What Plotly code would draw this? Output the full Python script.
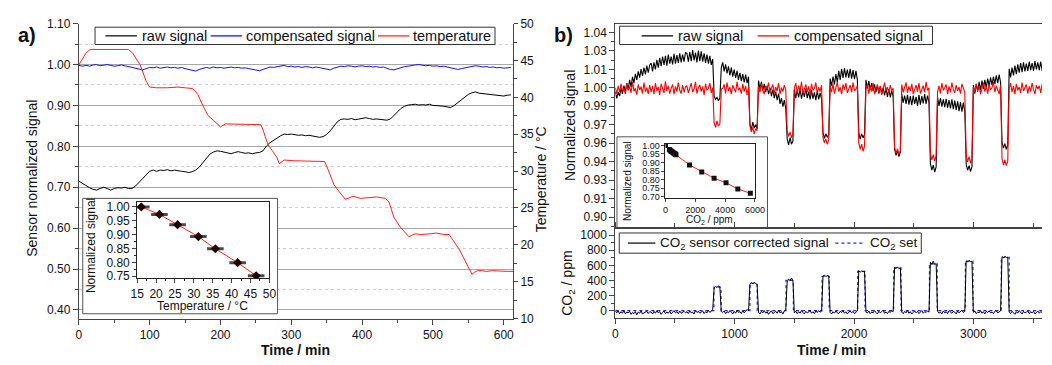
import plotly.graph_objects as go

W, H = 1052, 365
FONT = "Liberation Sans, Arial, sans-serif"

# ---------------- panel a data (time step 5 min) ----------------
raw_a = [0.715, 0.709, 0.703, 0.699, 0.695, 0.693, 0.697, 0.700, 0.697, 0.693,
         0.697, 0.699, 0.698, 0.700, 0.697, 0.697, 0.703, 0.712, 0.723, 0.732,
         0.739, 0.742, 0.739, 0.742, 0.741, 0.743, 0.740, 0.742, 0.740, 0.739,
         0.738, 0.736, 0.738, 0.742, 0.749, 0.760, 0.771, 0.781, 0.786, 0.789,
         0.788, 0.786, 0.784, 0.782, 0.785, 0.787, 0.785, 0.783, 0.784, 0.782,
         0.784, 0.785, 0.789, 0.801, 0.809, 0.815, 0.820, 0.826, 0.830, 0.829,
         0.830, 0.828, 0.827, 0.828, 0.826, 0.827, 0.825, 0.823, 0.822, 0.824,
         0.829, 0.838, 0.850, 0.860, 0.866, 0.867, 0.866, 0.868, 0.865, 0.867,
         0.869, 0.870, 0.868, 0.866, 0.867, 0.866, 0.864, 0.864, 0.867, 0.876,
         0.885, 0.893, 0.898, 0.901, 0.902, 0.903, 0.901, 0.902, 0.901, 0.903,
         0.900, 0.900, 0.899, 0.898, 0.896, 0.895, 0.900, 0.907, 0.915, 0.922,
         0.927, 0.931, 0.933, 0.930, 0.929, 0.928, 0.927, 0.926, 0.925, 0.924,
         0.923, 0.925, 0.926]

comp_a = [0.998, 0.996, 0.998, 0.996, 0.999, 1.000, 0.997, 0.998, 1.000, 0.998,
          0.996, 0.997, 0.999, 0.997, 0.995, 0.993, 0.991, 0.989, 0.987, 0.990,
          0.993, 0.992, 0.994, 0.991, 0.993, 0.994, 0.992, 0.993, 0.991, 0.993,
          0.990, 0.988, 0.985, 0.984, 0.988, 0.991, 0.993, 0.991, 0.994, 0.992,
          0.993, 0.991, 0.993, 0.994, 0.992, 0.993, 0.991, 0.992, 0.990, 0.988,
          0.986, 0.985, 0.988, 0.992, 0.994, 0.993, 0.995, 0.997, 0.998, 0.995,
          0.996, 0.994, 0.995, 0.993, 0.995, 0.994, 0.992, 0.994, 0.992, 0.990,
          0.988, 0.987, 0.991, 0.994, 0.996, 0.995, 0.997, 0.996, 0.994, 0.996,
          0.997, 0.995, 0.996, 0.994, 0.995, 0.993, 0.994, 0.991, 0.988, 0.987,
          0.990, 0.993, 0.995, 0.996, 0.998, 0.999, 1.000, 0.998, 0.997, 0.998,
          0.996, 0.997, 0.995, 0.996, 0.994, 0.992, 0.989, 0.988, 0.990, 0.992,
          0.994, 0.995, 0.997, 0.996, 0.994, 0.995, 0.993, 0.994, 0.992, 0.993,
          0.991, 0.992, 0.993]

t_temp = [0, 5, 10, 16, 30, 50, 70, 76, 82, 86, 89, 92, 95, 100, 110, 125, 140, 150, 160, 164,
          168, 174, 178, 182, 190, 197, 200, 207, 220, 240, 257, 260, 263, 267, 273, 280, 283, 290, 305, 320,
          335, 347, 352, 356, 360, 366, 371, 376, 380, 387, 398, 410, 420, 433, 438, 442, 445, 454, 460, 466,
          470, 475, 483, 491, 497, 505, 515, 523, 530, 537, 543, 549, 555, 559, 563, 570, 575, 584, 595, 605, 613]
temp_a = [44.4, 45.3, 46.0, 46.5, 46.5, 46.5, 46.5, 46.0, 45.2, 44.5, 43.8, 43.0, 42.2, 41.4, 41.3, 41.3, 41.4, 41.3, 41.2, 40.9,
          40.4, 39.1, 38.3, 37.6, 36.9, 36.2, 36.0, 36.4, 36.4, 36.4, 36.3, 35.6, 34.7, 33.6, 32.8, 31.8, 31.0, 31.5, 31.4, 31.4,
          31.4, 31.3, 30.2, 29.2, 28.2, 27.4, 26.8, 26.2, 26.3, 26.6, 26.3, 26.4, 26.5, 26.3, 25.8, 24.6, 23.7, 22.4, 21.7, 21.1,
          21.3, 21.5, 21.4, 21.4, 21.5, 21.6, 21.4, 21.4, 20.4, 19.4, 18.3, 17.2, 16.0, 16.3, 16.5, 16.5, 16.4, 16.5, 16.4, 16.4, 16.4]

# inset a
temp_cal = [16.1, 20.9, 25.7, 31.2, 35.7, 41.6, 46.5]
sig_cal = [1.000, 0.973, 0.936, 0.893, 0.849, 0.799, 0.752]
temp_err = [1.8, 1.8, 1.8, 1.8, 1.8, 1.8, 1.8]

# ---------------- panel b data (time step 12 min, values in 1e-4 units) ----------------
raw_b = [
    9965, 9912, 9960, 9931, 9990, 9948, 10012, 9962, 10030, 9981, 10055, 10002, 10078, 10030, 10102, 10055, 10120, 10072, 10138, 10085, 10150, 10098, 10165, 10110, 10170,
    10185, 10120, 10190, 10135, 10210, 10150, 10225, 10160, 10235, 10170, 10240, 10165, 10250, 10180, 10235, 10175, 10255, 10180, 10245, 10185, 10260, 10190, 10250, 10195, 10265,
    10260, 10195, 10270, 10200, 10285, 10205, 10265, 10190, 10280, 10200, 10275, 10195, 10260, 10185, 10250, 10180, 10240, 10170, 10215, 9930, 9905, 9920, 9895, 9915, 10150,
    10190, 10120, 10175, 10105, 10160, 10090, 10150, 10080, 10135, 10070, 10125, 10055, 10110, 10045, 10100, 10035, 10095, 10030, 10080, 9715, 9670, 9730, 9685, 9710, 9680,
    10050, 9985, 10040, 9975, 10025, 9960, 10010, 9945, 9995, 9930, 9980, 9915, 9965, 9900, 9950, 9870, 9915, 9850, 9900, 9835, 9600, 9555, 9610, 9560, 9585,
    9980, 9915, 9975, 9920, 9985, 9910, 9970, 9925, 9990, 9915, 9965, 9905, 9975, 9910, 9960, 9900, 9970, 9905, 9955, 9910, 9650, 9605, 9640, 9615, 9630,
    10065, 10010, 10080, 10020, 10100, 10040, 10125, 10055, 10140, 10070, 10145, 10075, 10135, 10070, 10140, 10065, 10130, 10060, 10125, 10055, 9650, 9600, 9640, 9610, 9635,
    10055, 9990, 10045, 9980, 10030, 9970, 10020, 9960, 10010, 9950, 10005, 9945, 9995, 9935, 9990, 9925, 9985, 9920, 9975, 9925, 9520, 9475, 9510, 9465, 9500,
    9945, 9880, 9935, 9870, 9940, 9865, 9930, 9860, 9935, 9870, 9925, 9855, 9940, 9865, 9930, 9875, 9945, 9870, 9935, 9880, 9410, 9360, 9400, 9345, 9385,
    9920, 9855, 9915, 9850, 9905, 9845, 9910, 9840, 9900, 9835, 9905, 9830, 9895, 9825, 9890, 9815, 9885, 9810, 9880, 9815, 9405, 9360, 9395, 9350, 9385,
    10015, 9950, 10025, 9965, 10040, 9975, 10050, 9985, 10055, 9995, 10065, 10005, 10075, 10015, 10080, 10025, 10090, 10030, 10095, 10035, 9575, 9530, 9565, 9520, 9555,
    10140, 10075, 10150, 10090, 10165, 10100, 10175, 10110, 10185, 10115, 10190, 10120, 10180, 10125, 10195, 10130, 10185, 10125, 10200, 10135, 10190, 10130, 10195, 10125, 10185,
]

comp_b = [
    9995, 9950, 10010, 9962, 10025, 9970, 9990, 9945, 10030, 9975, 10005, 9955, 10040, 9968, 9990, 9942, 10020, 9978, 10002, 9950, 10035, 9965, 9995, 9948, 10015,
    9960, 10010, 9945, 10030, 9970, 10000, 9940, 10025, 9985, 9955, 10045, 9970, 10010, 9950, 9990, 10020, 9945, 10005, 9965, 10035, 9975, 9950, 10015, 9960, 10000,
    10010, 9955, 9990, 10030, 9960, 9985, 10040, 9950, 9995, 10015, 9965, 10005, 9940, 10025, 9975, 9990, 10030, 9955, 9995, 9725, 9690, 9740, 9700, 9715, 9985,
    9990, 10020, 9950, 10035, 9970, 10000, 9945, 10015, 9980, 9960, 10040, 9975, 9995, 9950, 10025, 9965, 10010, 9940, 10000, 9700, 9655, 9690, 9640, 9680, 9665,
    10005, 9960, 10025, 9975, 9945, 10010, 9985, 10035, 9955, 9990, 10020, 9950, 10000, 9970, 10030, 9945, 9995, 9965, 10015, 9980, 9665, 9620, 9655, 9610, 9640,
    9990, 10030, 9955, 10010, 9970, 10040, 9950, 9995, 10020, 9960, 10005, 9945, 10025, 9975, 9990, 10035, 9955, 10000, 9965, 10015, 9610, 9570, 9600, 9560, 9595,
    10010, 9960, 10025, 9950, 9995, 10040, 9965, 10000, 9945, 10020, 9980, 10030, 9955, 9990, 10015, 9960, 10035, 9970, 9985, 10010, 9570, 9520, 9560, 9505, 9545,
    9985, 10025, 9950, 10005, 9965, 10030, 9945, 9990, 10020, 9960, 10010, 9940, 9995, 10035, 9970, 10000, 9955, 10015, 9975, 9990, 9535, 9490, 9525, 9480, 9510,
    10020, 9960, 9995, 10035, 9955, 10005, 9970, 10025, 9945, 9990, 10015, 9965, 10030, 9950, 9985, 10010, 9960, 10040, 9975, 9995, 9490, 9440, 9480, 9430, 9470,
    9965, 10010, 9950, 10030, 9975, 9995, 10020, 9945, 10005, 9960, 10035, 9980, 9955, 10015, 9970, 10000, 9950, 10025, 9985, 9960, 9475, 9425, 9465, 9415, 9455,
    10000, 9955, 10025, 9970, 10010, 9945, 9990, 10035, 9965, 10005, 9950, 10020, 9980, 9995, 10040, 9960, 10010, 9975, 9945, 10015, 9450, 9400, 9440, 9395, 9430,
    9990, 10030, 9960, 10010, 9945, 10025, 9975, 10000, 9955, 10035, 9970, 9990, 10020, 9950, 10005, 9965, 10030, 9980, 9945, 10015, 9985, 10010, 9955, 10025, 9970,
]

co2_sig = [
    -5, -30, 0, -40, -15, -35, 5, -45, -20, -30, -10, -50, -25, -40, -15, -55, -20, -35, -5, -45, -30, -20, -10, -40, -15,
    -20, -45, -10, -35, 0, -30, -15, -50, -25, -5, -40, -20, -35, -10, -45, -25, 0, -30, -15, -40, -5, -35, -20, -10, -30,
    -15, -40, -5, -30, -20, -45, 0, -25, -10, -35, -20, -5, -40, -15, -30, 5, -25, -10, 10, 300, 320, 305, 330, 310, -10,
    -25, -5, -40, -15, -30, 0, -20, -45, -10, -35, 5, -25, -15, -40, 0, -30, -10, 15, -5, 350, 370, 355, 375, 360, 345,
    -20, -45, -10, -30, 0, -35, -15, -50, -20, -5, -40, -25, -10, -35, 5, -30, -15, -45, -5, 10, 380, 420, 395, 430, 400,
    -30, -10, -40, -15, -35, 0, -25, -45, -10, -30, -20, 5, -35, -15, -40, -5, -25, 0, -20, -10, 455, 470, 450, 465, 460,
    -25, -45, -15, -35, -5, -30, -40, -10, -25, 0, -35, -15, -45, -20, -5, -30, -10, -40, -20, -5, 530, 510, 525, 515, 520,
    -15, -35, -5, -40, -20, -30, 0, -25, -45, -10, -30, -15, 5, -35, -20, -40, -10, -25, 0, -15, 575, 560, 580, 555, 570,
    -20, -40, -10, -30, 5, -35, -15, -45, -25, -5, -30, -10, -40, -20, 0, -35, -15, -25, -5, -20, 640, 615, 655, 610, 625,
    -10, -35, -20, -45, -5, -30, -15, -40, 0, -25, -35, -10, -20, -45, -5, -30, -15, 5, -25, -10, 660, 645, 665, 650, 655,
    -25, -5, -40, -20, -30, 0, -35, -15, -45, -10, -25, -5, -30, -20, -40, -10, 0, -30, -15, -5, 715, 700, 720, 705, 710,
    -20, -40, -10, -30, -50, -15, -35, 0, -25, -45, -10, -30, -20, -5, -40, -15, -30, -10, -45, -20, -5, -35, -15, -25, -10,
]

set_t = [0, 826, 886, 1128, 1189, 1430, 1492, 1732, 1792, 2031, 2092, 2332, 2394, 2632, 2697, 2933, 2997, 3234, 3300, 3588]
set_v = [0, 310, 0, 360, 0, 400, 0, 455, 0, 520, 0, 565, 0, 620, 0, 655, 0, 705, 0, 0]

# inset b
co2_cal = [0, 260, 310, 360, 400, 460, 520, 570, 620, 660, 705, 1610, 2430, 3260, 4060, 4850, 5690]
sig_co2 = [1.000, 0.976, 0.972, 0.968, 0.965, 0.961, 0.957, 0.954, 0.951, 0.948, 0.945,
           0.886, 0.845, 0.808, 0.781, 0.745, 0.720]

# series names
NAMES_A = ['raw signal', 'compensated signal', 'temperature']
NAMES_B = ['raw signal', 'compensated signal']
NAMES_C = ['CO<sub>2</sub> sensor corrected signal', 'CO<sub>2</sub> set']


# ---------------- helpers ----------------
def fx(px):
    return px / W


def fy(py):
    return 1 - py / H


A_XR = [0, 613]
A_YR = [0.379, 1.10]
A_Y2R = [10, 50]
B_XR = [0, 3575]
BT_YR = [0.8914, 1.0488]
BB_YR = [-97, 1093]

A_L, A_R, A_T, A_B = 73, 514.3, 17.3, 324
B_L, B_R, BT_T, BT_B, BB_B = 618.3, 1052, 17.3, 230, 323.3


def ax_a(px):
    return A_XR[0] + (px - A_L) / (A_R - A_L) * (A_XR[1] - A_XR[0])


def ay_a(py):
    return A_YR[1] - (py - A_T) / (A_B - A_T) * (A_YR[1] - A_YR[0])


def ax_b(px):
    return B_XR[0] + (px - B_L) / (B_R - B_L) * (B_XR[1] - B_XR[0])


def ay_b(py):
    return BT_YR[1] - (py - BT_T) / (BT_B - BT_T) * (BT_YR[1] - BT_YR[0])


C_BLACK, C_BLUE, C_RED = '#000000', '#1010ff', '#ff2020'

fig = go.Figure()

# panel a traces
t_a = [5 * i for i in range(len(raw_a))]
t_ac = [5 * i for i in range(len(comp_a))]
fig.add_trace(go.Scatter(x=t_a, y=raw_a, mode='lines', line=dict(color=C_BLACK, width=1),
                         name=NAMES_A[0], xaxis='x', yaxis='y'))
fig.add_trace(go.Scatter(x=t_ac, y=comp_a, mode='lines', line=dict(color=C_BLUE, width=1),
                         name=NAMES_A[1], xaxis='x', yaxis='y'))
fig.add_trace(go.Scatter(x=t_temp, y=temp_a, mode='lines', line=dict(color=C_RED, width=1),
                         name=NAMES_A[2], xaxis='x', yaxis='y2'))

# inset a
fig.add_trace(go.Scatter(x=temp_cal, y=sig_cal, mode='lines+markers',
                         line=dict(color=C_RED, width=1),
                         marker=dict(symbol='diamond', size=7, color='#1a0000'),
                         error_x=dict(type='data', array=temp_err, color='#4a4a4a', thickness=3, width=1.5),
                         name='calibration', xaxis='x4', yaxis='y5'))

# panel b traces
t_braw = [12 * i for i in range(len(raw_b))]
t_bcomp = [12 * i for i in range(len(comp_b))]
t_bco2 = [12 * i for i in range(len(co2_sig))]
fig.add_trace(go.Scatter(x=t_braw, y=[v / 10000 for v in raw_b], mode='lines',
                         line=dict(color=C_BLACK, width=1.1), name=NAMES_B[0], xaxis='x2', yaxis='y3'))
fig.add_trace(go.Scatter(x=t_bcomp, y=[v / 10000 for v in comp_b], mode='lines',
                         line=dict(color='#ff0000', width=1.1), name=NAMES_B[1], xaxis='x2', yaxis='y3'))
fig.add_trace(go.Scatter(x=set_t, y=set_v, mode='lines',
                         line=dict(color='#2020ff', width=1.2, dash='dot', shape='hv'),
                         name=NAMES_C[1], xaxis='x3', yaxis='y4'))
fig.add_trace(go.Scatter(x=t_bco2, y=co2_sig, mode='lines', line=dict(color=C_BLACK, width=1),
                         name=NAMES_C[0], xaxis='x3', yaxis='y4'))

# inset b
fig.add_trace(go.Scatter(x=co2_cal, y=sig_co2, mode='lines+markers',
                         line=dict(color=C_RED, width=1),
                         marker=dict(symbol='square', size=5, color='#111111'),
                         name='CO2 calibration', xaxis='x5', yaxis='y6'))

LC = '#444444'
TF = dict(size=12, family=FONT, color='#111111')
TF_IB = dict(size=9, family=FONT, color='#111111')


def base(**kw):
    d = dict(showline=True, linecolor=LC, linewidth=1, ticks='outside', tickcolor=LC, ticklen=5,
             tickfont=TF, showgrid=False, zeroline=False)
    d.update(kw)
    return d


layout = dict(
    width=W, height=H, margin=dict(l=0, r=0, t=0, b=0),
    paper_bgcolor='white', plot_bgcolor='white', showlegend=False,
    font=dict(family=FONT, color='#111111'),
    xaxis=base(domain=[fx(A_L), fx(A_R)], anchor='y', range=A_XR, tick0=0, dtick=100,
               minor=dict(dtick=50, tick0=0, ticklen=3, ticks='outside', tickcolor=LC)),
    yaxis=base(domain=[fy(A_B), fy(A_T)], anchor='x', range=A_YR, tick0=0.4, dtick=0.1, tickformat='.2f',
               showgrid=True, gridcolor='#a8a8a8', gridwidth=1,
               minor=dict(dtick=0.05, tick0=0.4, ticklen=3, ticks='outside', tickcolor=LC,
                          showgrid=True, gridcolor='#cccccc', griddash='dot', gridwidth=1)),
    yaxis2=base(overlaying='y', side='right', anchor='x', range=A_Y2R, tick0=10, dtick=5, ticklen=4,
                minor=dict(dtick=2.5, tick0=10, ticklen=3, ticks='outside', tickcolor=LC)),
    xaxis2=base(domain=[fx(B_L), 1.0], anchor='y3', range=B_XR, showticklabels=False, ticks='', mirror=True),
    yaxis3=base(domain=[fy(BT_B), fy(BT_T)], anchor='x2', range=BT_YR, tick0=0.9, dtick=0.0142, tickformat='.2f',
                minor=dict(dtick=0.0071, tick0=0.9, ticklen=3, ticks='outside', tickcolor=LC)),
    xaxis3=base(domain=[fx(B_L), 1.0], anchor='y4', range=B_XR, tick0=0, dtick=1000, mirror='ticks',
                minor=dict(dtick=500, tick0=0, ticklen=4, ticks='outside', tickcolor=LC)),
    yaxis4=base(domain=[fy(BB_B), fy(BT_B)], anchor='x3', range=BB_YR, tick0=0, dtick=200,
                minor=dict(dtick=100, tick0=0, ticklen=3, ticks='outside', tickcolor=LC)),
    xaxis4=base(domain=[fx(132.3), fx(266.7)], anchor='y5', range=[15, 50], tick0=15, dtick=5, mirror=True,
                linecolor='#222222', ticklen=4,
                minor=dict(dtick=2.5, tick0=15, ticklen=2, ticks='outside', tickcolor='#222222')),
    yaxis5=base(domain=[fy(282), fy(203)], anchor='x4', range=[0.743, 1.017], tick0=0.75, dtick=0.05,
                tickformat='.2f', mirror=True, linecolor='#222222', ticklen=4,
                minor=dict(dtick=0.025, tick0=0.75, ticklen=2, ticks='outside', tickcolor='#222222')),
    xaxis5=base(domain=[fx(669.3), fx(760.7)], anchor='y6', range=[0, 6030], tick0=0, dtick=2000, mirror=True,
                linecolor='#222222', ticklen=3, tickfont=TF_IB),
    yaxis6=base(domain=[fy(199), fy(142.3)], anchor='x5', range=[0.69, 1.0095], tick0=0.70, dtick=0.05,
                tickformat='.2f', mirror=True, linecolor='#222222', ticklen=3, tickfont=TF_IB),
)
fig.update_layout(**layout)

# hide the top-edge gridline of panel a (reference shows none there)
fig.add_shape(type='line', xref='x', yref='y', layer='between', x0=A_XR[0], x1=A_XR[1],
              y0=A_YR[1], y1=A_YR[1], line=dict(color='white', width=2))

# inset frames (white boxes between grid and traces)
fig.add_shape(type='rect', xref='x', yref='y', layer='between',
              x0=ax_a(77), x1=ax_a(275), y0=ay_a(319), y1=ay_a(199),
              fillcolor='white', line=dict(color='#555555', width=1))
fig.add_shape(type='rect', xref='x2', yref='y3', layer='between',
              x0=ax_b(620), x1=ax_b(773), y0=ay_b(229.5), y1=ay_b(135),
              fillcolor='white', line=dict(color='#555555', width=1))


def ann(text, px, py, size=14, angle=0, xanchor='center'):
    fig.add_annotation(text=text, x=fx(px), y=fy(py), xref='paper', yref='paper', showarrow=False,
                       textangle=angle, xanchor=xanchor, yanchor='middle',
                       font=dict(size=size, family=FONT, color='#111111'))


# ---- legends drawn as framed boxes with line samples ----
def legend_box(x0, x1, y0, y1, items, yc, size=14.5):
    fig.add_shape(type='rect', xref='paper', yref='paper', layer='above',
                  x0=fx(x0), x1=fx(x1), y0=fy(y1), y1=fy(y0),
                  fillcolor='white', line=dict(color='#333333', width=1))
    for (lx0, lx1, color, dash, text, tx) in items:
        fig.add_shape(type='line', xref='paper', yref='paper', layer='above',
                      x0=fx(lx0), x1=fx(lx1), y0=fy(yc), y1=fy(yc),
                      line=dict(color=color, width=1.2, dash=dash))
        ann(text, tx, yc, size=size, xanchor='left')


legend_box(89.5, 496, 21, 39, [
    (100, 132, C_BLACK, 'solid', NAMES_A[0], 135),
    (207, 239, C_BLUE, 'solid', NAMES_A[1], 241),
    (377, 409, C_RED, 'solid', NAMES_A[2], 411),
], 30)
legend_box(622.7, 940.7, 20, 39, [
    (645, 677, C_BLACK, 'solid', NAMES_B[0], 680),
    (763, 795, '#ff0000', 'solid', NAMES_B[1], 798),
], 30)
legend_box(622.3, 929.3, 235, 256, [
    (631, 659, C_BLACK, 'solid', NAMES_C[0], 662),
    (842, 872, '#2020ff', 'dot', NAMES_C[1], 875),
], 245.5, size=13.5)

ann('<b>a)</b>', 20, 29, size=20)
ann('<b>b)</b>', 566, 29, size=20)
ann('Sensor normalized signal', 26, 178, angle=-90)
ann('Temperature / °C', 543, 179, angle=-90)
ann('<b>Time / min</b>', 293, 357)
ann('<b>Time / min</b>', 838, 357)
ann('Normalized signal', 571.5, 123.5, angle=-90)
ann('CO<sub>2</sub> / ppm', 570, 287, angle=-90)
ann('Normalized signal', 86, 248, size=12, angle=-90)
ann('Temperature / °C', 199, 310.5, size=12)
ann('Normalized signal', 630, 181, size=10, angle=-90)
ann('CO<sub>2</sub> / ppm', 714.5, 221.5, size=10)

fig.write_html('out.html')
